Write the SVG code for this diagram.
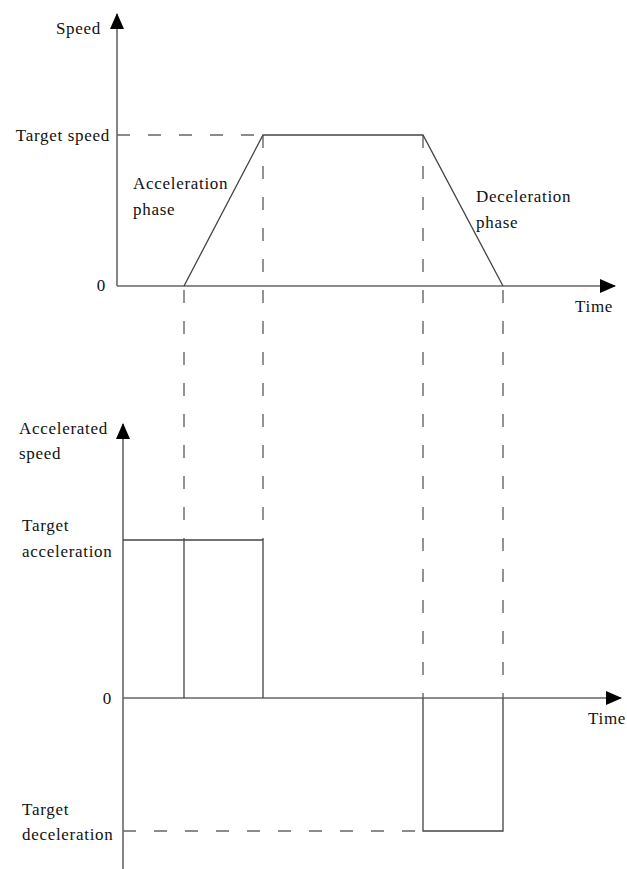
<svg xmlns="http://www.w3.org/2000/svg" width="627" height="869" viewBox="0 0 627 869">
<style>
text{font-family:"Liberation Serif","DejaVu Serif",serif;font-size:17px;letter-spacing:0.7px;fill:#111}
.ax{stroke:#666;stroke-width:1.6;fill:none}
.ln{stroke:#444;stroke-width:1.3;fill:none}
.da{stroke:#666;stroke-width:1.4;fill:none;stroke-dasharray:13 18}
</style>
<defs>
<marker id="arrL" markerWidth="16" markerHeight="14" refX="15" refY="7" orient="auto" markerUnits="userSpaceOnUse" viewBox="0 0 16 14"><path d="M0,0 L16,7 L0,14 Z" fill="#000"/></marker>
</defs>
<g id="top-axes">
<line class="ax" x1="117" y1="286" x2="117" y2="14" marker-end="url(#arrL)"/>
<line class="ax" x1="117" y1="286" x2="615" y2="286" marker-end="url(#arrL)"/>
</g>
<g id="bottom-axes">
<line class="ax" x1="123" y1="869" x2="123" y2="424" marker-end="url(#arrL)"/>
<line class="ax" x1="123" y1="698" x2="621" y2="698" marker-end="url(#arrL)"/>
</g>
<g id="connectors">
<line class="da" x1="117" y1="135" x2="263" y2="135"/>
<line class="da" x1="263" y1="135" x2="263" y2="540"/>
<line class="da" x1="184" y1="290" x2="184" y2="540"/>
<line class="da" x1="423" y1="135" x2="423" y2="698"/>
<line class="da" x1="503" y1="290" x2="503" y2="698"/>
<line class="da" x1="123" y1="831" x2="423" y2="831"/>
</g>
<g id="speed-profile">
<polyline class="ln" points="184,286 263,135 423,135 503,286"/>
</g>
<g id="accel-profile">
<polyline class="ln" points="123,540 263,540 263,698"/>
<line class="ln" x1="184" y1="540" x2="184" y2="698"/>
<polyline class="ln" points="423,698 423,831 503,831 503,698"/>
</g>
<g id="labels">
<text x="101" y="34" text-anchor="end">Speed</text>
<text x="110" y="141" text-anchor="end">Target speed</text>
<text x="106" y="291" text-anchor="end">0</text>
<text x="133" y="189">Acceleration</text>
<text x="133" y="215">phase</text>
<text x="476" y="202">Deceleration</text>
<text x="476" y="228">phase</text>
<text x="575" y="312">Time</text>
<text x="19" y="434">Accelerated</text>
<text x="19" y="459">speed</text>
<text x="22" y="531">Target</text>
<text x="22" y="557">acceleration</text>
<text x="112" y="704" text-anchor="end">0</text>
<text x="588" y="724">Time</text>
<text x="22" y="815">Target</text>
<text x="22" y="840">deceleration</text>
</g>
</svg>
